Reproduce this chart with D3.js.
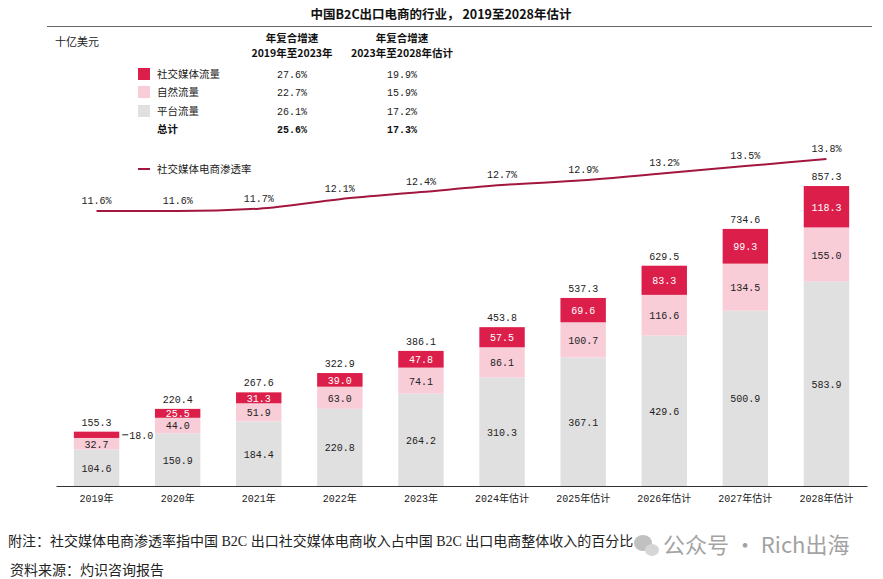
<!DOCTYPE html>
<html><head><meta charset="utf-8">
<script src="https://cdn.jsdelivr.net/npm/d3@7/dist/d3.min.js"></script>
<style>
body{margin:0;background:#fff;}
text{font-family:"Liberation Mono","Noto Sans CJK SC",monospace;}
.cjk{font-family:"Noto Sans CJK SC",sans-serif;}
.serif{font-family:"Liberation Serif","Noto Sans CJK SC",serif;}
</style></head>
<body>
<svg id="c" width="883" height="579"></svg>
<script>
const years = ["2019年","2020年","2021年","2022年","2023年","2024年估计","2025年估计","2026年估计","2027年估计","2028年估计"];
const platform = [104.6,150.9,184.4,220.8,264.2,310.3,367.1,429.6,500.9,583.9];
const natural = [32.7,44.0,51.9,63.0,74.1,86.1,100.7,116.6,134.5,155.0];
const social = [18.0,25.5,31.3,39.0,47.8,57.5,69.6,83.3,99.3,118.3];
const totals = [155.3,220.4,267.6,322.9,386.1,453.8,537.3,629.5,734.6,857.3];
const penetration = [11.6,11.6,11.7,12.1,12.4,12.7,12.9,13.2,13.5,13.8];
const legendNames = ["社交媒体流量","自然流量","平台流量"];
const cagr1 = ["27.6%","22.7%","26.1%"];
const cagr2 = ["19.9%","15.9%","17.2%"];
const totalCagr = ["25.6%","17.3%"];
const colors = ["#dc1f4a","#f8cdd8","#e0e0e0"];
const lineColor = "#a3173f";

const svg = d3.select("#c");
// title
svg.append("text").attr("x",441).attr("y",19).attr("text-anchor","middle").attr("class","cjk")
  .attr("font-size",12.5).attr("font-weight","bold").attr("fill","#111").text("中国B2C出口电商的行业， 2019至2028年估计");
svg.append("line").attr("x1",47).attr("x2",872).attr("y1",26.5).attr("y2",26.5).attr("stroke","#666").attr("stroke-width",1.2);
svg.append("text").attr("x",55).attr("y",46).attr("class","cjk").attr("font-size",11).attr("fill","#222").text("十亿美元");

// table header
const col1=292,col2=402;
[[col1,"年复合增速","2019年至2023年"],[col2,"年复合增速","2023年至2028年估计"]].forEach(d=>{
  svg.append("text").attr("x",d[0]).attr("y",42).attr("text-anchor","middle").attr("class","cjk").attr("font-size",10.5).attr("font-weight","bold").attr("fill","#111").text(d[1]);
  svg.append("text").attr("x",d[0]).attr("y",57).attr("text-anchor","middle").attr("class","cjk").attr("font-size",10.5).attr("font-weight","bold").attr("fill","#111").text(d[2]);
});
const rowY=[74,92,111];
legendNames.forEach((n,i)=>{
  svg.append("rect").attr("x",138).attr("y",rowY[i]-6).attr("width",12).attr("height",12).attr("fill",colors[i]);
  svg.append("text").attr("x",157).attr("y",rowY[i]+4).attr("class","cjk").attr("font-size",10.5).attr("fill","#222").text(n);
  svg.append("text").attr("x",col1).attr("y",rowY[i]+4).attr("text-anchor","middle").attr("font-size",10).attr("fill","#222").text(cagr1[i]);
  svg.append("text").attr("x",col2).attr("y",rowY[i]+4).attr("text-anchor","middle").attr("font-size",10).attr("fill","#222").text(cagr2[i]);
});
svg.append("text").attr("x",157).attr("y",133).attr("class","cjk").attr("font-size",10.5).attr("font-weight","bold").attr("fill","#111").text("总计");
svg.append("text").attr("x",col1).attr("y",133).attr("text-anchor","middle").attr("font-size",10).attr("font-weight","bold").attr("fill","#111").text(totalCagr[0]);
svg.append("text").attr("x",col2).attr("y",133).attr("text-anchor","middle").attr("font-size",10).attr("font-weight","bold").attr("fill","#111").text(totalCagr[1]);
// line legend
svg.append("line").attr("x1",138).attr("x2",150).attr("y1",169).attr("y2",169).attr("stroke",lineColor).attr("stroke-width",2);
svg.append("text").attr("x",157).attr("y",173).attr("class","cjk").attr("font-size",10.5).attr("fill","#222").text("社交媒体电商渗透率");

// scales
const x = d3.scaleBand().domain(years).range([56,867]).paddingInner(0.44).paddingOuter(0.22);
const y = d3.scaleLinear().domain([0,857.3]).range([486,186]);
const yl = d3.scaleLinear().domain([11.6,13.8]).range([211,159]);

const data = years.map((yr,i)=>({yr,i,segs:[
  {v:platform[i],c:colors[2],lo:0,hi:platform[i],tc:"#222"},
  {v:natural[i],c:colors[1],lo:platform[i],hi:platform[i]+natural[i],tc:"#222"},
  {v:social[i],c:colors[0],lo:platform[i]+natural[i],hi:platform[i]+natural[i]+social[i],tc:"#fff"}
]}));
const g = svg.append("g");
data.forEach(d=>{
  d.segs.forEach((s,k)=>{
    g.append("rect").attr("x",x(d.yr)).attr("width",x.bandwidth())
      .attr("y",y(s.hi)).attr("height",y(s.lo)-y(s.hi)).attr("fill",s.c);
    const cx = x(d.yr)+x.bandwidth()/2;
    if(d.i===0 && k===2){
      g.append("line").attr("x1",x(d.yr)+x.bandwidth()+3).attr("x2",x(d.yr)+x.bandwidth()+9)
        .attr("y1",(y(s.hi)+y(s.lo))/2).attr("y2",(y(s.hi)+y(s.lo))/2).attr("stroke","#222").attr("stroke-width",1);
      g.append("text").attr("x",x(d.yr)+x.bandwidth()+10).attr("y",(y(s.hi)+y(s.lo))/2+4)
        .attr("font-size",10).attr("fill","#222").text(s.v.toFixed(1));
    } else {
      g.append("text").attr("x",cx).attr("y",(y(s.hi)+y(s.lo))/2+4).attr("text-anchor","middle")
        .attr("font-size",10).attr("fill",s.tc).text(s.v.toFixed(1));
    }
  });
  g.append("text").attr("x",x(d.yr)+x.bandwidth()/2).attr("y",y(totals[d.i])-6).attr("text-anchor","middle")
    .attr("font-size",10).attr("fill","#222").text(totals[d.i].toFixed(1));
});
// axis
const ax = svg.append("g").attr("transform","translate(0,486)").call(d3.axisBottom(x).tickSize(0).tickPadding(9));
ax.select(".domain").attr("stroke","#333").attr("stroke-width",1.2);
ax.selectAll("text").attr("font-size",10).attr("fill","#222").style("font-family","'Liberation Mono','Noto Sans CJK SC',monospace");

// line
const line = d3.line().x((d,i)=>x(years[i])+x.bandwidth()/2).y(d=>yl(d)).curve(d3.curveMonotoneX);
svg.append("path").attr("d",line(penetration)).attr("fill","none").attr("stroke",lineColor).attr("stroke-width",2);
penetration.forEach((p,i)=>{
  svg.append("text").attr("x",x(years[i])+x.bandwidth()/2).attr("y",yl(p)-7).attr("text-anchor","middle")
    .attr("font-size",10).attr("fill","#222").text(p.toFixed(1)+"%");
});

// footnotes
svg.append("text").attr("x",8).attr("y",546).attr("class","serif").attr("font-size",14).attr("fill","#222")
  .text("附注：社交媒体电商渗透率指中国 B2C 出口社交媒体电商收入占中国 B2C 出口电商整体收入的百分比");
svg.append("text").attr("x",10).attr("y",575).attr("class","serif").attr("font-size",14).attr("fill","#222")
  .text("资料来源：灼识咨询报告");
// watermark
const wm = svg.append("g").attr("opacity",0.6);
wm.append("ellipse").attr("cx",643).attr("cy",543).attr("rx",9).attr("ry",8).attr("fill","#999");
wm.append("ellipse").attr("cx",652).attr("cy",550).attr("rx",7).attr("ry",6).attr("fill","#bbb");
wm.append("text").attr("x",663).attr("y",553).attr("class","cjk").attr("font-size",22).attr("fill","#666").text("公众号 · Rich出海");
</script>
</body></html>
